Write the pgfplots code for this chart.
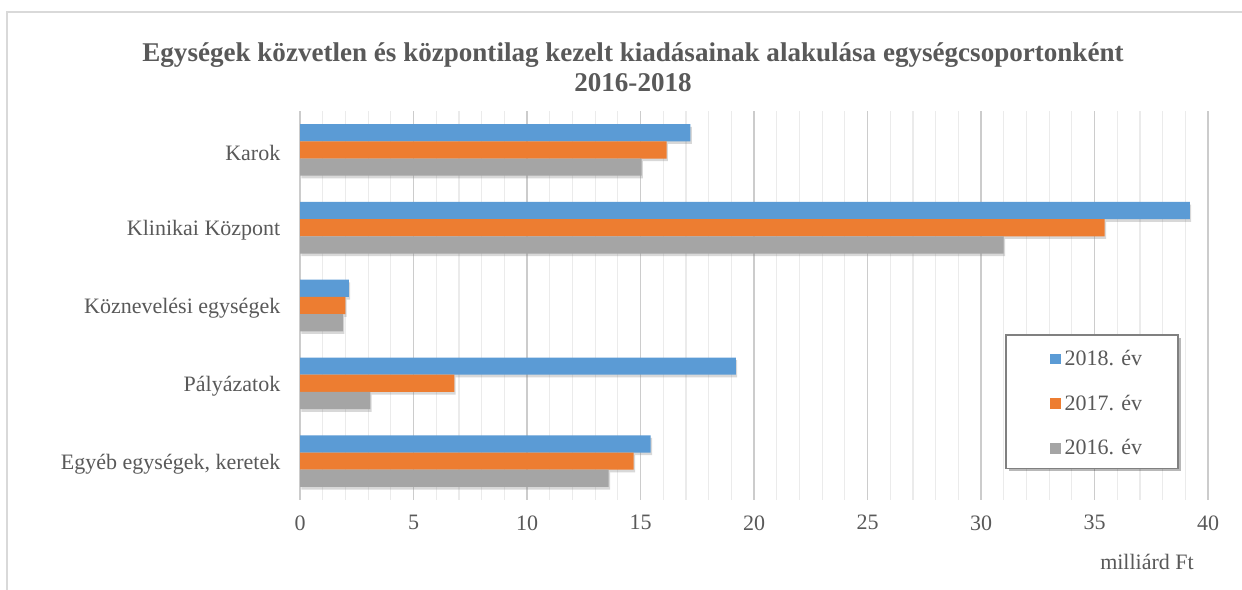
\documentclass[border=0pt]{standalone}
\usepackage{pgfplots}
\pgfplotsset{compat=1.18}
\usepackage{fontspec}
\setmainfont{Liberation Serif}
\usetikzlibrary{shadows}
\definecolor{cblue}{HTML}{5B9BD5}
\definecolor{corange}{HTML}{ED7D31}
\definecolor{cgray}{HTML}{A5A5A5}
\definecolor{txt}{HTML}{595959}
\begin{document}
\begin{tikzpicture}[x=0.75pt,y=0.75pt]
\clip (0,0) rectangle (1242,589);
\fill[white] (0,0) rectangle (1242,589);
\draw[black!15, line width=1.5pt] (7,-10) -- (7,577) -- (1260,577);
\node[font=\fontsize{20.3}{22.5}\selectfont\bfseries, text=txt, align=center] at (633,522)
  {Egységek közvetlen és központilag kezelt kiadásainak alakulása egységcsoportonként\\2016-2018};
\begin{axis}[
  at={(225pt,66.75pt)}, anchor=south west,
  scale only axis, width=681pt, height=291.75pt,
  xbar, bar width=12.9pt,
  xmin=0, xmax=40, ymin=-0.5, ymax=4.5, y dir=reverse,
  ytick={0,...,4},
  yticklabels={Karok, Klinikai Központ, Köznevelési egységek, Pályázatok, {Egyéb egységek, keretek}},
  xtick={0,5,...,40}, minor xtick={0,...,40},
  xmajorgrids, xminorgrids,
  major grid style={black!20, line width=0.9pt},
  minor grid style={black!8, line width=0.9pt},
  axis line style={draw=none}, major tick style={draw=none}, minor tick style={draw=none},
  ticklabel style={font=\fontsize{16.5}{19}\selectfont, text=txt},
  /pgf/number format/assume math mode=true,
  yticklabel style={xshift=-7pt, yshift=-2pt},
  xticklabel style={yshift=-8pt},
  legend style={at={(0.7775,0.424)}, anchor=north west, draw=none, fill=none,
    font=\fontsize{16.5}{19}\selectfont, text=txt,
    inner xsep=32.75pt, inner ysep=9.25pt, row sep=16.5pt,
    nodes={inner xsep=3pt}},
  legend cell align=left,
  legend image code/.code={\fill[#1] (0pt,-4pt) rectangle (8pt,4pt);},
]
\addlegendimage{fill=cblue, draw=none}
\addlegendentry{2018. év}
\addlegendimage{fill=corange, draw=none}
\addlegendentry{2017. év}
\addlegendimage{fill=cgray, draw=none}
\addlegendentry{2016. év}
\addplot[forget plot, draw=none, bar shift=12.9pt, fill=cblue,
  drop shadow={shadow xshift=1pt, shadow yshift=-2pt, opacity=0.3}]
  coordinates {(17.2,0) (39.2,1) (2.15,2) (19.2,3) (15.45,4)};
\addplot[forget plot, draw=none, bar shift=0pt, fill=corange,
  drop shadow={shadow xshift=1pt, shadow yshift=-2pt, opacity=0.3}]
  coordinates {(16.15,0) (35.45,1) (2.0,2) (6.8,3) (14.7,4)};
\addplot[forget plot, draw=none, bar shift=-12.9pt, fill=cgray,
  drop shadow={shadow xshift=1pt, shadow yshift=-2pt, opacity=0.3}]
  coordinates {(15.05,0) (31.0,1) (1.9,2) (3.1,3) (13.6,4)};
\fill[black, opacity=0.28] ([xshift=2.5pt,yshift=-2.5pt]rel axis cs:0.7775,0.082) rectangle ([xshift=2.5pt,yshift=-2.5pt]rel axis cs:0.967,0.424);
\filldraw[fill=white, draw=black!50, line width=0.9pt] (rel axis cs:0.7775,0.082) rectangle (rel axis cs:0.967,0.424);
\end{axis}
\node[font=\fontsize{16.5}{19}\selectfont, text=txt] at (1147,27) {milliárd Ft};
\end{tikzpicture}
\end{document}
